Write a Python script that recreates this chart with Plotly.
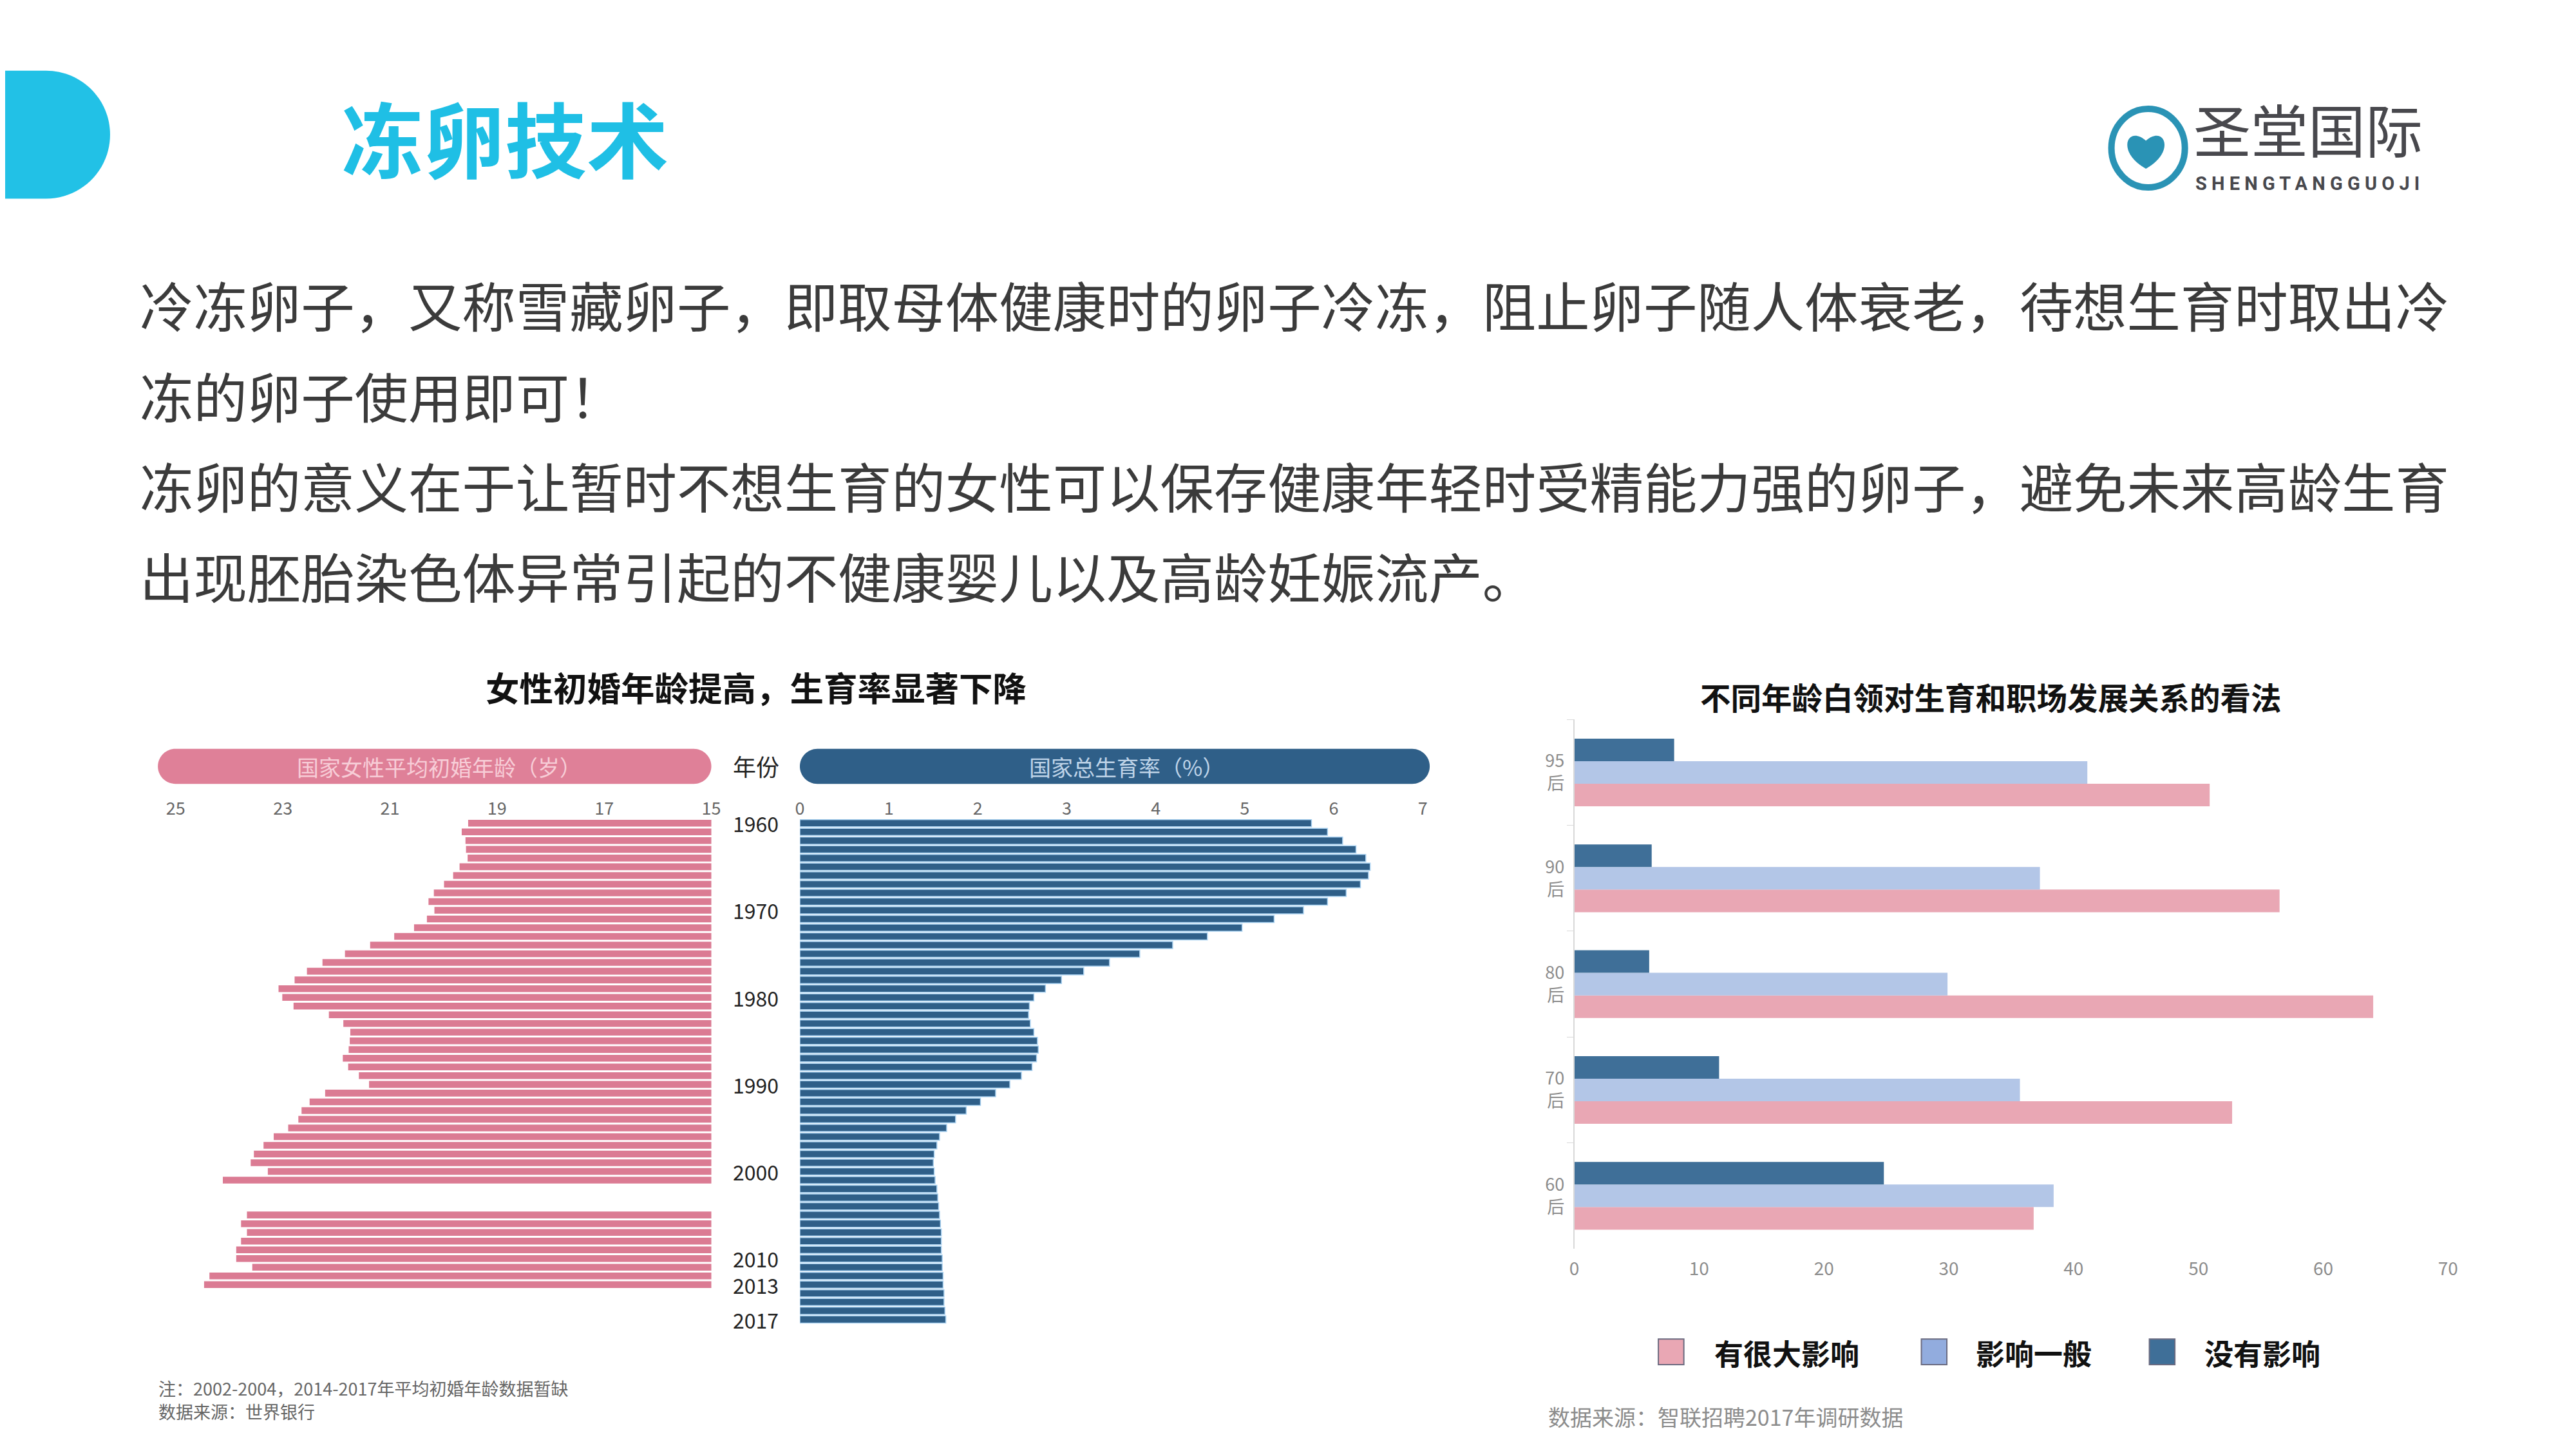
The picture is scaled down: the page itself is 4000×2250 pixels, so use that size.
import plotly.graph_objects as go

W, H = 4000, 2250
FONT = "Noto Sans CJK SC, Noto Sans, sans-serif"
S = 2.551 / 2.58      # calibration of measured positions
OFF = 8               # page body margin compensation
XC, EX = 1913, 1.008  # horizontal calibration


def px(x):
    return (((x * S) - XC) * EX + XC - OFF) / W


def py(y):
    return 1 - (y * S - OFF) / H


def pxr(x):           # positions measured directly in target pixels
    return (x - OFF) / W


def pyr(y):
    return 1 - (y - OFF) / H


# ---------------- data ----------------
years = list(range(1960, 2018))
year_labels = [1960, 1970, 1980, 1990, 2000, 2010, 2013, 2017]

# 国家女性平均初婚年龄（岁）; None = 数据暂缺
marriage_age = [19.54, 19.66, 19.59, 19.58, 19.55, 19.70, 19.82, 19.99, 20.18, 20.28,
                20.17, 20.31, 20.55, 20.92, 21.37, 21.84, 22.26, 22.55, 22.78, 23.08,
                23.01, 22.80, 22.14, 21.87, 21.74, 21.75, 21.77, 21.88, 21.78, 21.58,
                21.39, 22.21, 22.50, 22.65, 22.71, 22.90, 23.17, 23.36, 23.54, 23.60,
                23.28, 24.12, None, None, None, 23.67, 23.78, 23.67, 23.78, 23.87,
                23.87, 23.57, 24.37, 24.47, None, None, None, None]

# 国家总生育率
fertility = [5.75, 5.93, 6.10, 6.25, 6.36, 6.41, 6.39, 6.30, 6.14, 5.93,
             5.66, 5.33, 4.97, 4.58, 4.19, 3.82, 3.48, 3.19, 2.94, 2.76,
             2.63, 2.58, 2.57, 2.59, 2.63, 2.67, 2.68, 2.66, 2.61, 2.49,
             2.36, 2.20, 2.03, 1.87, 1.75, 1.65, 1.57, 1.54, 1.51, 1.50,
             1.51, 1.52, 1.54, 1.55, 1.56, 1.57, 1.58, 1.59, 1.59, 1.59,
             1.60, 1.60, 1.61, 1.61, 1.62, 1.62, 1.63, 1.64]

age_ticks = [25, 23, 21, 19, 17, 15]

groups = ["60后", "70后", "80后", "90后", "95后"]
group_ticktext = ["60<br>后", "70<br>后", "80<br>后", "90<br>后", "95<br>后"]
series_names = ["有很大影响", "影响一般", "没有影响"]
big_impact = [36.8, 52.7, 64.0, 56.5, 50.9]
general_impact = [38.4, 35.7, 29.9, 37.3, 41.1]
no_impact = [24.8, 11.6, 6.0, 6.2, 8.0]
series_values = [big_impact, general_impact, no_impact]
series_colors = ["#e9a7b4", "#b3c6e7", "#3f6f98"]
legend_colors = ["#e9a7b4", "#92acde", "#3f6f98"]

paragraph = [
    "冷冻卵子，又称雪藏卵子，即取母体健康时的卵子冷冻，阻止卵子随人体衰老，待想生育时取出冷",
    "冻的卵子使用即可！",
    "冻卵的意义在于让暂时不想生育的女性可以保存健康年轻时受精能力强的卵子，避免未来高龄生育",
    "出现胚胎染色体异常引起的不健康婴儿以及高龄妊娠流产。",
]

PINK = "#db7b93"
BLUE = "#2f5f88"

fig = go.Figure()

# left: marriage age (reversed axis, bars grow leftward from 15)
fig.add_trace(go.Bar(
    x=marriage_age, y=years, orientation="h", xaxis="x", yaxis="y",
    width=0.78, marker=dict(color=PINK, line=dict(width=0)),
    showlegend=False, hoverinfo="x+y"))

# middle: fertility
fig.add_trace(go.Bar(
    x=fertility, y=years, orientation="h", xaxis="x2", yaxis="y2",
    width=0.82, marker=dict(color=BLUE, line=dict(width=1.5, color="#a9d1f0")),
    showlegend=False, hoverinfo="x+y"))

# right: grouped bars
for name, vals, col in zip(series_names, series_values, series_colors):
    fig.add_trace(go.Bar(
        x=vals, y=groups, orientation="h", name=name, xaxis="x3", yaxis="y3",
        marker=dict(color=col, line=dict(width=0)), showlegend=False))

ydom = [py(2079), py(1286)]
tickfont_l = dict(family=FONT, size=27, color="#666666")

fig.update_layout(
    width=W, height=H,
    margin=dict(l=0, r=0, t=0, b=0),
    paper_bgcolor="white", plot_bgcolor="white",
    barmode="group", bargap=0.36, bargroupgap=0,
    font=dict(family=FONT),
    xaxis=dict(domain=[px(276), px(1117)], range=[25, 15], side="top", anchor="y",
               tickvals=age_ticks, tickfont=tickfont_l, showgrid=False,
               zeroline=False, showline=False, ticks=""),
    yaxis=dict(domain=ydom, range=[2017.5, 1959.5], anchor="x", visible=False),
    xaxis2=dict(domain=[px(1256), px(2234)], range=[0, 7], side="top", anchor="y2",
                dtick=1, tickfont=tickfont_l, showgrid=False, zeroline=False,
                showline=False, ticks=""),
    yaxis2=dict(domain=ydom, range=[2017.5, 1959.5], anchor="x2", visible=False),
    xaxis3=dict(domain=[px(2472), px(3844)], range=[0, 70], dtick=10, anchor="y3",
                tickfont=dict(family=FONT, size=28, color="#8c8c8c"), showgrid=False,
                zeroline=False, showline=False, ticks="", ticklabelstandoff=12),
    yaxis3=dict(domain=[py(1961), py(1130)], type="category", categoryorder="array",
                categoryarray=groups, tickvals=groups, ticktext=group_ticktext,
                anchor="x3", showline=True, linecolor="#d9d9d9", linewidth=2,
                ticks="outside", tickson="boundaries", ticklen=10, tickcolor="#d9d9d9",
                tickfont=dict(family=FONT, size=27, color="#8c8c8c"), showgrid=False,
                ticklabelstandoff=8),
)


def pill_path(x0, y0, x1, y1):
    r = (y1 - y0) / 2
    yc = (y0 + y1) / 2
    k = 0.5523 * r

    def p(x, y):
        return f"{px(x):.6f},{py(y):.6f}"
    return (f"M {p(x0 + r, y0)} L {p(x1 - r, y0)} "
            f"C {p(x1 - r + k, y0)} {p(x1, yc - k)} {p(x1, yc)} "
            f"C {p(x1, yc + k)} {p(x1 - r + k, y1)} {p(x1 - r, y1)} "
            f"L {p(x0 + r, y1)} "
            f"C {p(x0 + r - k, y1)} {p(x0, yc + k)} {p(x0, yc)} "
            f"C {p(x0, yc - k)} {p(x0 + r - k, y0)} {p(x0 + r, y0)} Z")


def heart_path(cx, cy, s):
    def p(dx, dy):
        return f"{pxr(cx + dx * s):.6f},{pyr(cy + dy * s):.6f}"
    return (f"M {p(0, 22)} C {p(-36, 2)} {p(-22, -30)} {p(0, -11)} "
            f"C {p(22, -30)} {p(36, 2)} {p(0, 22)} Z")


shapes = [
    # left decoration
    dict(type="path", xref="paper", yref="paper", path=pill_path(-300, 111, 173, 312),
         fillcolor="#22c1e6", line=dict(width=0), layer="below"),
    # pills
    dict(type="path", xref="paper", yref="paper", path=pill_path(248, 1176, 1117, 1231),
         fillcolor="#df8098", line=dict(width=0)),
    dict(type="path", xref="paper", yref="paper", path=pill_path(1256, 1176, 2245, 1231),
         fillcolor="#2f5f88", line=dict(width=0)),
    # logo ring + heart
    dict(type="circle", xref="paper", yref="paper", x0=pxr(3289), x1=pxr(3404),
         y0=pyr(291), y1=pyr(169), line=dict(color="#2a93b5", width=10)),
    dict(type="path", xref="paper", yref="paper", path=heart_path(3343, 233, 1.32),
         fillcolor="#2a93b5", line=dict(width=0)),
]

# manual legend squares
legend_x = [2624, 3037, 3395]
legend_tx = [2691, 3101, 3460]
for cx, col in zip(legend_x, legend_colors):
    shapes.append(dict(type="rect", xref="paper", yref="paper",
                       x0=px(cx - 20), x1=px(cx + 20), y0=py(2143), y1=py(2103),
                       fillcolor=col, line=dict(color="#6b6b80", width=2)))

annotations = []


def add_text(text, x, y, size, color, xanchor="left", yanchor="middle", real=False,
             family=FONT):
    annotations.append(dict(text=text, x=(pxr(x) if real else px(x)),
                            y=(pyr(y) if real else py(y)),
                            xref="paper", yref="paper", xanchor=xanchor, yanchor=yanchor,
                            showarrow=False, borderpad=0, align="left",
                            font=dict(family=family, size=size, color=color)))


add_text("<b>冻卵技术</b>", 518, 212, 127, "#1fbfe5", real=True)
# logo wordmark
add_text("圣堂国际", 3416, 264, 89, "#48484d", yanchor="bottom", real=True)
add_text("<b>S H E N G T A N G G U O J I</b>", 3419, 267, 29, "#48484d",
         yanchor="top", real=True, family="Roboto, sans-serif")

for i, line in enumerate(paragraph):
    add_text(line, 219, 477 + i * 142, 83.4, "#3b3b3b")

add_text("<b>女性初婚年龄提高，生育率显著下降</b>", 1187, 1078, 52.5, "#111111", xanchor="center")
add_text("国家女性平均初婚年龄（岁）", 690, 1204, 34, "#f7cdd7", xanchor="center")
add_text("国家总生育率（%）", 1769, 1204, 34, "#bfd4e8", xanchor="center")
add_text("年份", 1187, 1203, 36, "#222222", xanchor="center")
for yl in year_labels:
    annotations.append(dict(text=str(yl), x=px(1187), y=yl, xref="paper", yref="y",
                            xanchor="center", yanchor="middle", showarrow=False,
                            font=dict(family=FONT, size=32, color="#222222")))

add_text("注：2002-2004，2014-2017年平均初婚年龄数据暂缺", 248, 2180, 27, "#666666")
add_text("数据来源：世界银行", 248, 2216, 27, "#666666")

add_text("<b>不同年龄白领对生育和职场发展关系的看法</b>", 3126, 1094, 47.5, "#111111", xanchor="center")
for name, tx in zip(series_names, legend_tx):
    add_text(f"<b>{name}</b>", tx, 2124, 45, "#111111")
add_text("数据来源：智联招聘2017年调研数据", 2430, 2224, 34, "#8c8c8c")

fig.update_layout(shapes=shapes, annotations=annotations)

fig.write_html("out.html")
